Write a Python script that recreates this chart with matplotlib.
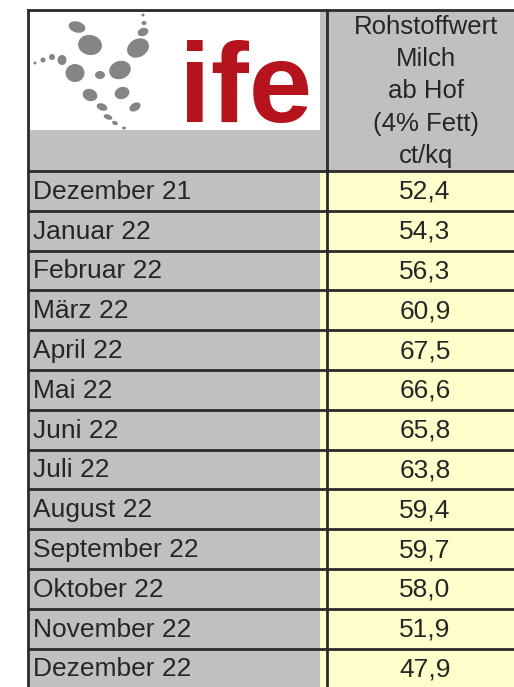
import matplotlib
matplotlib.use("Agg")
import matplotlib.pyplot as plt
from matplotlib.patches import Rectangle, Ellipse

plt.rcParams['font.family'] = ['Liberation Sans', 'DejaVu Sans']

# table data
months = ["Dezember 21", "Januar 22", "Februar 22", "März 22", "April 22",
          "Mai 22", "Juni 22", "Juli 22", "August 22", "September 22",
          "Oktober 22", "November 22", "Dezember 22"]
values = [52.4, 54.3, 56.3, 60.9, 67.5, 66.6, 65.8, 63.8, 59.4, 59.7,
          58.0, 51.9, 47.9]
header = ["Rohstoffwert", "Milch", "ab Hof", "(4% Fett)", "ct/kq"]

W, H = 514, 687
fig = plt.figure(figsize=(W / 100, H / 100), dpi=100)
ax = fig.add_axes([0, 0, 1, 1])
ax.set_xlim(0, W)
ax.set_ylim(H, 0)
ax.axis("off")

gray = "#c0c0c0"
yellow = "#ffffcc"
line = "#2b2b2b"
lw = 2.0

x_left, x_split, x_div, x_right = 28, 320, 327, 520
y_top, y_head = 10, 171
row_h = 39.8

# header
ax.add_patch(Rectangle((x_left, y_top), x_right - x_left, y_head - y_top, color=gray, lw=0))
ax.add_patch(Rectangle((x_left + 2, y_top + 2), x_split - x_left - 2, 118, color="white", lw=0))
for i, t in enumerate(header):
    ax.text(426, 27 + i * 32.2, t, ha="center", va="center", fontsize=18.5, color="#262626")

# logo dots (x, y, w, h, angle)
dots = [(77, 27, 17, 11, 15), (90, 45, 24, 20, 10), (138, 48, 23, 18, -30),
        (143, 32, 11, 8, -20), (144, 23, 5, 4, 0), (143, 15, 3, 3, 0),
        (75, 73, 19, 18, 0), (120, 70, 22, 18, -20), (100, 75, 10, 8, 0),
        (62, 60, 9, 10, 0), (52, 57, 6, 6, 0), (43, 60, 5, 5, 0),
        (35, 63, 3, 3, 0), (90, 95, 15, 12, 20), (122, 93, 15, 12, -20),
        (135, 107, 12, 8, -30), (102, 107, 11, 7, 20), (108, 117, 9, 5, 20),
        (115, 123, 6, 4, 20), (124, 128, 4, 3, 0)]
for dx, dy, w, h, a in dots:
    ax.add_patch(Ellipse((dx, dy), w, h, angle=a, color="#858585", lw=0))
ax.text(179, 122, "ife", fontsize=82, fontweight="bold", color="#b5141c",
        ha="left", va="baseline")

# body rows
for i, (m, v) in enumerate(zip(months, values)):
    y0 = y_head + i * row_h
    ax.add_patch(Rectangle((x_left, y0), x_split - x_left, row_h, color=gray, lw=0))
    ax.add_patch(Rectangle((x_split, y0), x_right - x_split, row_h, color=yellow, lw=0))
    ax.text(33, y0 + row_h / 2 + 1, m, ha="left", va="center", fontsize=19, color="#262626")
    ax.text(425, y0 + row_h / 2 + 1, f"{v:.1f}".replace(".", ","), ha="center",
            va="center", fontsize=19, color="#262626")
    ax.plot([x_left, x_right], [y0, y0], color=line, lw=lw, solid_capstyle="butt")

# borders
ax.plot([x_left, x_right], [y_top, y_top], color=line, lw=lw)
ax.plot([x_left, x_left], [y_top, H + 5], color=line, lw=lw)
ax.plot([x_div, x_div], [y_top, H + 5], color=line, lw=lw)

fig.savefig("out.png", dpi=100)
